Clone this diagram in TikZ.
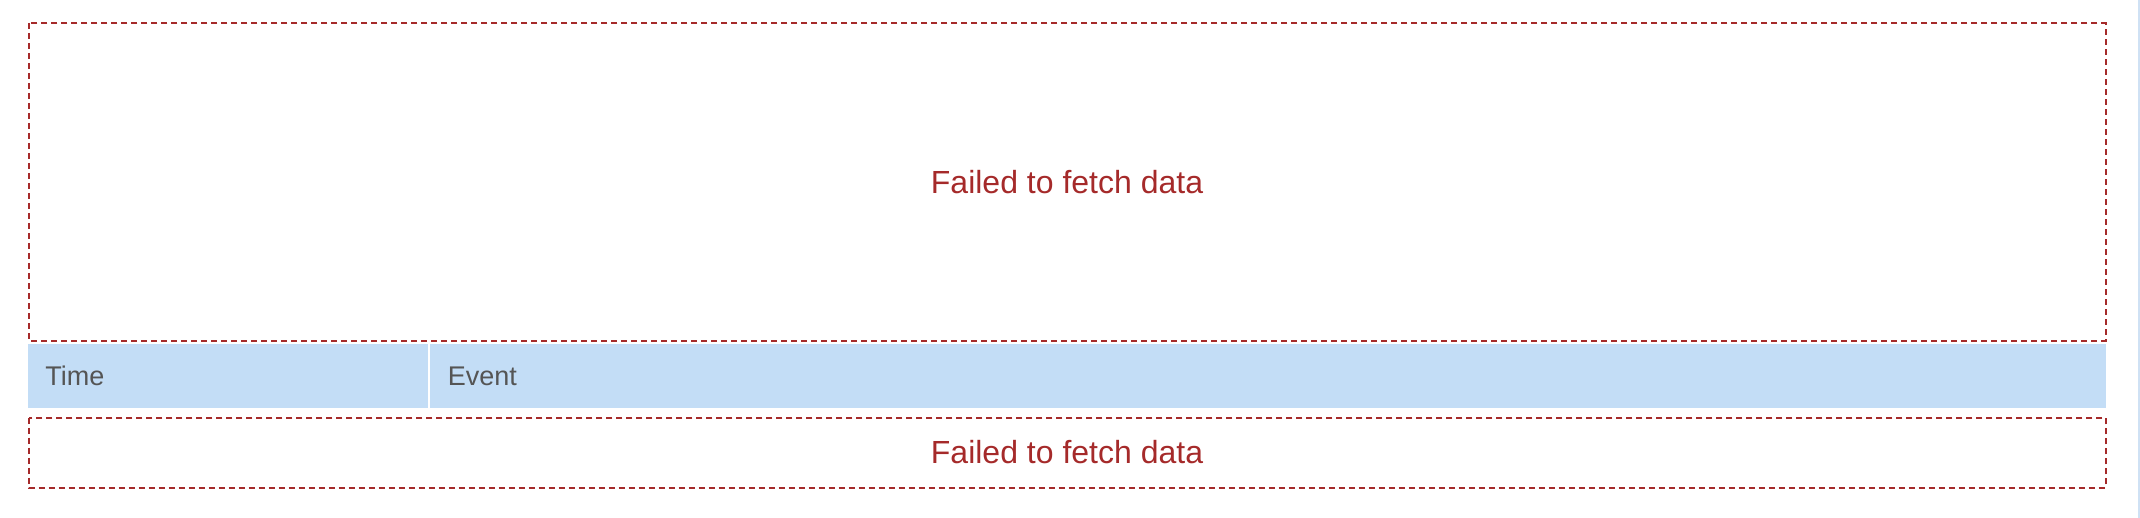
\documentclass[tikz,border=0pt]{standalone}
\usepackage{fontspec}
\setmainfont{Liberation Sans}

\definecolor{failred}{HTML}{A52A2A}
\definecolor{headblue}{HTML}{C3DDF6}
\definecolor{headgray}{HTML}{555555}
\definecolor{barblue}{HTML}{CFE1F4}

\begin{document}
\begin{tikzpicture}[x=0.5pt,y=-0.5pt,
  failbox/.style={draw=failred,line width=1pt,dash pattern=on 3pt off 2pt},
  failtext/.style={text=failred,inner sep=0pt,font=\fontsize{16}{19}\selectfont},
  headcell/.style={fill=headblue},
  headtext/.style={text=headgray,anchor=west,inner sep=0pt,font=\fontsize{13.5}{16}\selectfont}]
\useasboundingbox (0,0) rectangle (2140,518);
%\draw (0,0) to[grid with coordinates] (2140,518);
\fill[barblue] (2138,0) rectangle (2140,518);
% chart area
\draw[failbox] (28.7,23) rectangle (2105.5,340.5);
\node[failtext] (chartmsg) at (1067,182) {Failed to fetch data};
% table header
\fill[headcell] (28,344) rectangle (427.7,408);
\fill[headcell] (429.7,344) rectangle (2106,408);
\node[headtext] (timehead) at (45,376) {Time};
\node[headtext] (eventhead) at (447.5,376) {Event};
% table body
\draw[failbox] (28.7,417.5) rectangle (2105.5,487.5);
\node[failtext] (tablemsg) at (1067,452.5) {Failed to fetch data};
\end{tikzpicture}
\end{document}
